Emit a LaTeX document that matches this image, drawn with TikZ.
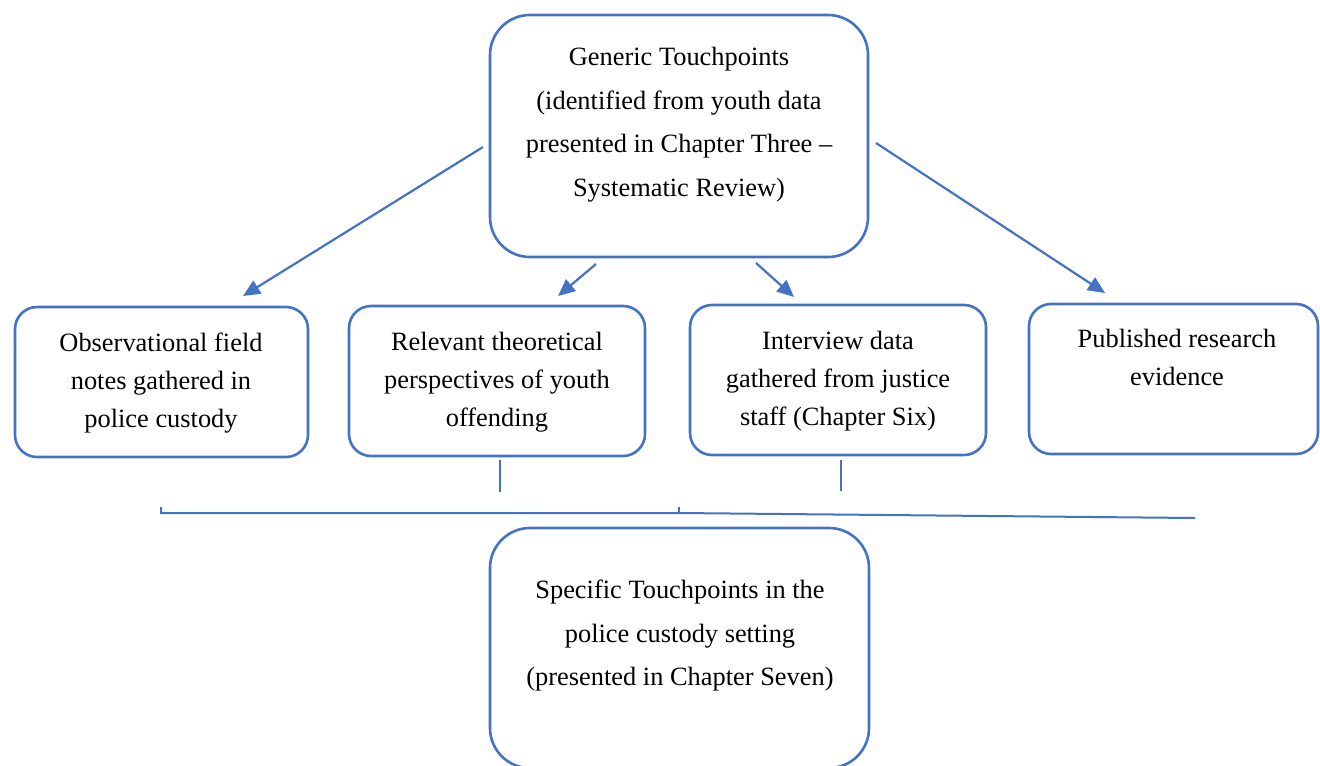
\documentclass[tikz,border=0pt]{standalone}
\usepackage{fontspec}
\setmainfont{Liberation Serif}
\usetikzlibrary{arrows.meta}
\definecolor{wblue}{HTML}{4472C4}
\begin{document}
\begin{tikzpicture}[x=0.5pt,y=-0.5pt,
  box/.style={draw=wblue, line width=1.3pt, rounded corners=11pt, inner sep=0pt, minimum height=75pt},
  bigbox/.style={draw=wblue, line width=1.3pt, rounded corners=20pt, inner sep=0pt},
  txt/.style={anchor=north, align=center, inner sep=0pt, font=\fontsize{13.2}{19}\selectfont},
  bigtxt/.style={anchor=north, align=center, inner sep=0pt, font=\fontsize{13.2}{21.75}\selectfont},
  arr/.style={draw=wblue, line width=1.1pt, -{Triangle[length=8.5pt,width=7.5pt]}},
  ln/.style={draw=wblue, line width=1pt}]
\clip (0,0) rectangle (1320,765);
\fill[white] (0,0) rectangle (1320,765);

% boxes
\node[bigbox, minimum width=189pt, minimum height=121pt] (top) at (679,136) {};
\node[box, minimum width=146.5pt] (b1) at (161.5,382) {};
\node[box, minimum width=148pt] (b2) at (497,381) {};
\node[box, minimum width=148pt] (b3) at (838,380) {};
\node[box, minimum width=144.5pt] (b4) at (1173.5,379) {};
\node[bigbox, minimum width=189.5pt, minimum height=120pt] (bot) at (679.5,648) {};

% texts
\node[bigtxt] (ttop) at (679,47) {Generic Touchpoints\\(identified from youth data\\presented in Chapter Three –\\Systematic Review)};
\node[txt] (t1) at (161,333) {Observational field\\notes gathered in\\police custody};
\node[txt] (t2) at (497,332) {Relevant theoretical\\perspectives of youth\\offending};
\node[txt] (t3) at (838,331) {Interview data\\gathered from justice\\staff (Chapter Six)};
\node[txt] (t4) at (1177,329) {Published research\\evidence};
\node[bigtxt] (tbot) at (680,580) {Specific Touchpoints in the\\police custody setting\\(presented in Chapter Seven)};

% arrows
\coordinate (a1s) at (483,147); \coordinate (a1e) at (243,296);
\coordinate (a2s) at (596,264); \coordinate (a2e) at (558,296);
\coordinate (a3s) at (756,263); \coordinate (a3e) at (794,297);
\coordinate (a4s) at (876,143); \coordinate (a4e) at (1105,293);
\draw[arr] (a1s) -- (a1e);
\draw[arr] (a2s) -- (a2e);
\draw[arr] (a3s) -- (a3e);
\draw[arr] (a4s) -- (a4e);

% lines and bracket
\coordinate (v1s) at (500,460); \coordinate (v1e) at (500,492);
\coordinate (v2s) at (841,460); \coordinate (v2e) at (841,491);
\draw[ln] (v1s) -- (v1e);
\draw[ln] (v2s) -- (v2e);
\coordinate (bl) at (161,507); \coordinate (blc) at (161,513);
\coordinate (bm) at (679,513); \coordinate (bmt) at (679,507);
\coordinate (br) at (1195,518);
\draw[ln] (bl) -- (blc) -- (bm) -- (br);
\draw[ln] (bmt) -- (bm);
\end{tikzpicture}
\end{document}
